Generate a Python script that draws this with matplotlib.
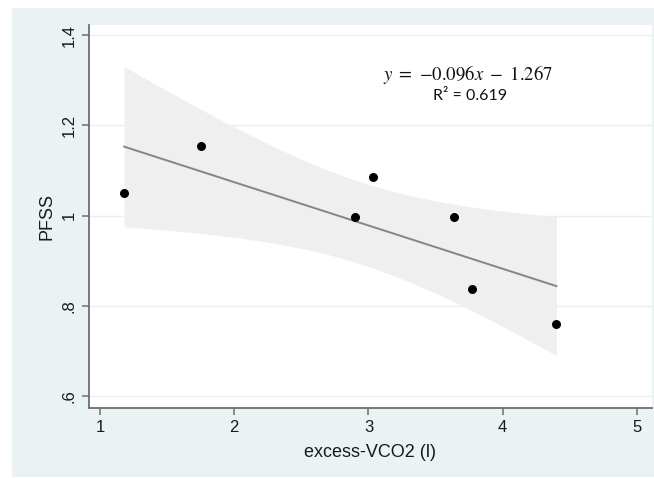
import numpy as np
import matplotlib
matplotlib.use("Agg")
import matplotlib.pyplot as plt
from matplotlib.patches import Rectangle

# data
vco2 = np.array([1.18, 1.75, 2.90, 3.03, 3.64, 3.77, 4.40])
pfss = np.array([1.050, 1.154, 0.996, 1.085, 0.996, 0.837, 0.759])
xticks = [1, 2, 3, 4, 5]
yticks = [0.6, 0.8, 1.0, 1.2, 1.4]
ytick_labels = [".6", ".8", "1", "1.2", "1.4"]
eq_text = r"$y\ =\ {-0.096}x\ -\ 1.267$"
r2_text = "R² = 0.619"

T_CRIT = 2.5706  # t(0.975, df=5)

# linear fit + 95% CI of the mean (like Stata lfitci)
n = len(vco2)
slope, intercept = np.polyfit(vco2, pfss, 1)
resid = pfss - (slope * vco2 + intercept)
s = np.sqrt(np.sum(resid ** 2) / (n - 2))
xm = vco2.mean()
sxx = np.sum((vco2 - xm) ** 2)
xg = np.linspace(vco2.min(), vco2.max(), 100)
yg = slope * xg + intercept
half = T_CRIT * s * np.sqrt(1.0 / n + (xg - xm) ** 2 / sxx)

BG = "#EAF2F3"
AXC = "#6E6E6E"
TXT = "#1A1A1A"

plt.rcParams["mathtext.fontset"] = "stix"

fig = plt.figure(figsize=(6.54, 4.78), dpi=100)
fig.patch.set_facecolor("white")
fig.patches.append(Rectangle((12 / 654, 1 / 478), 642 / 654, 469 / 478,
                             transform=fig.transFigure, facecolor=BG,
                             edgecolor="none", zorder=-10))

ax = fig.add_axes([89 / 654, 1 - 408 / 478, (652 - 89) / 654, (408 - 25) / 478])
ax.set_facecolor("white")

ax.fill_between(xg, yg - half, yg + half, color="#EFEFEF", linewidth=0, zorder=2)
ax.plot(xg, yg, color="#858585", linewidth=1.4, zorder=3)
ax.scatter(vco2, pfss, s=42, color="black", zorder=4, linewidths=0)

ax.set_xlim(0.918, 5.112)
ax.set_ylim(0.5734, 1.4222)
ax.set_xticks(xticks)
ax.set_xticklabels([str(t) for t in xticks], fontsize=12, family="Liberation Sans")
ax.set_yticks(yticks)
ax.set_yticklabels(ytick_labels, fontsize=12, family="Liberation Sans",
                   rotation=90, va="center")

for y in yticks:
    ax.axhline(y, color="#EEEEEE", linewidth=1.0, zorder=1)

for side in ["top", "right"]:
    ax.spines[side].set_visible(False)
for side in ["left", "bottom"]:
    ax.spines[side].set_color(AXC)
    ax.spines[side].set_linewidth(1.3)
ax.tick_params(axis="both", colors=AXC, length=5, width=1.1, labelcolor=TXT)
ax.tick_params(axis="y", pad=4)
ax.tick_params(axis="x", pad=4)

ax.set_xlabel("excess-VCO2 (l)", fontsize=13, family="Liberation Sans",
              color=TXT, labelpad=6)
ax.set_ylabel("PFSS", fontsize=13, family="Liberation Sans",
              color=TXT, labelpad=4)

fig.text(468 / 654, 1 - 75 / 478, eq_text, fontsize=13.5, ha="center", va="center",
         color="#111111")
fig.text(470 / 654, 1 - 96 / 478, r2_text, fontsize=11.5, ha="center", va="center",
         family="Lato", color="#111111")

fig.savefig("out.png", dpi=100)
